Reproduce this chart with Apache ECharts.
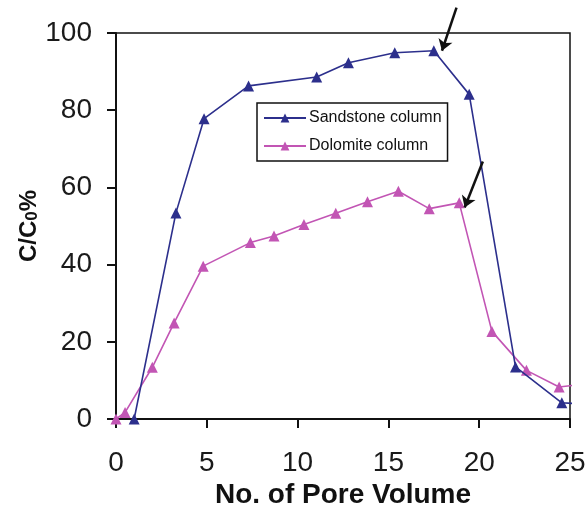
<!DOCTYPE html>
<html>
<head>
<meta charset="utf-8">
<script src="https://cdn.jsdelivr.net/npm/echarts@6/dist/echarts.min.js"></script>
<style>
  html, body { margin: 0; padding: 0; background: #fff; }
  #chart { width: 587px; height: 505px; }
</style>
</head>
<body>
<div id="chart"></div>
<script>
// Breakthrough curves: relative concentration vs. injected pore volumes
const sandstonePV = [1.0, 3.3, 4.85, 7.3, 11.05, 12.8, 15.35, 17.5, 19.45, 22.0, 24.55, 25.3];
const sandstoneC  = [0.0, 53.4, 77.8, 86.3, 88.6, 92.3, 94.9, 95.4, 84.1, 13.5, 4.2, 4.0];

const dolomitePV = [0.0, 0.5, 2.0, 3.2, 4.8, 7.4, 8.7, 10.35, 12.1, 13.85, 15.55, 17.25, 18.9, 20.7, 22.6, 24.4, 25.3];
const dolomiteC  = [0.0, 1.7, 13.4, 24.9, 39.6, 45.7, 47.4, 50.4, 53.3, 56.3, 59.0, 54.5, 56.0, 22.7, 12.6, 8.3, 8.8];

const xTicks = [0, 5, 10, 15, 20, 25];
const yTicks = [0, 20, 40, 60, 80, 100];

// Arrows marking the onset of the decline (tail -> head, in data units)
const sandstoneArrow = [[18.75, 106.6], [17.95, 95.4]];
const dolomiteArrow  = [[20.2, 66.7], [19.2, 54.8]];

const BLUE = '#2c2f8c';
const PINK = '#c255b4';
const FONT = 'Liberation Sans, Arial, sans-serif';

// last point of each series only carries the line to the frame edge
function toPoints(xs, ys) {
  return xs.map((x, i) => i === xs.length - 1
    ? { value: [x, ys[i]], symbol: 'none' }
    : [x, ys[i]]);
}

const chart = echarts.init(document.getElementById('chart'), null, { renderer: 'canvas' });

chart.setOption({
  animation: false,
  backgroundColor: '#fff',
  grid: {
    left: 116, right: 17, top: 33, bottom: 86,
    containLabel: false, outerBoundsMode: 'none',
    show: true, borderColor: '#111', borderWidth: 1.5, backgroundColor: 'transparent'
  },
  legend: {
    orient: 'vertical',
    left: 257, top: 103,
    padding: [7, 6, 7, 6],
    itemGap: 12,
    itemWidth: 42, itemHeight: 11,
    borderColor: '#111', borderWidth: 1.5, borderRadius: 0,
    backgroundColor: '#fff',
    textStyle: { fontFamily: FONT, fontSize: 16, color: '#111', padding: [0, 0, 0, -2] },
    data: ['Sandstone column', 'Dolomite column']
  },
  xAxis: {
    type: 'value', min: xTicks[0], max: xTicks[xTicks.length - 1], interval: 5,
    name: 'No. of Pore Volume', nameLocation: 'middle', nameGap: 62, nameMoveOverlap: false,
    nameTextStyle: { fontFamily: FONT, fontSize: 28, fontWeight: 'bold', color: '#111' },
    axisLine: { show: true, onZero: false, lineStyle: { color: '#111', width: 2 } },
    axisTick: { show: true, length: 9, lineStyle: { color: '#111', width: 2 } },
    axisLabel: { fontFamily: FONT, fontSize: 28, color: '#1a1a1a', margin: 30 },
    splitLine: { show: false }
  },
  yAxis: {
    type: 'value', min: yTicks[0], max: yTicks[yTicks.length - 1], interval: 20,
    name: 'C/C{sub|0}%', nameLocation: 'middle', nameGap: 75, nameRotate: 90, nameMoveOverlap: false,
    nameTextStyle: {
      fontFamily: FONT, fontSize: 24, fontWeight: 'bold', color: '#111',
      rich: { sub: { fontFamily: FONT, fontSize: 17, fontWeight: 'bold', color: '#111', verticalAlign: 'bottom', padding: [4, 0, 0, 0] } }
    },
    axisLine: { show: true, onZero: false, lineStyle: { color: '#111', width: 2 } },
    axisTick: { show: true, length: 9, lineStyle: { color: '#111', width: 2 } },
    axisLabel: { fontFamily: FONT, fontSize: 28, color: '#1a1a1a', margin: 24 },
    splitLine: { show: false }
  },
  series: [
    {
      name: 'Sandstone column', type: 'line', data: toPoints(sandstonePV, sandstoneC),
      clip: false, symbol: 'triangle', symbolSize: 11,
      lineStyle: { color: BLUE, width: 1.6 }, itemStyle: { color: BLUE },
      z: 3
    },
    {
      name: 'Dolomite column', type: 'line', data: toPoints(dolomitePV, dolomiteC),
      clip: false, symbol: 'triangle', symbolSize: 11,
      lineStyle: { color: PINK, width: 1.6 }, itemStyle: { color: PINK },
      z: 2
    },
    {
      name: 'arrows', type: 'lines', coordinateSystem: 'cartesian2d',
      clip: false, silent: true, z: 5,
      symbol: ['none', 'arrow'], symbolSize: [8, 11],
      lineStyle: { color: '#111', width: 2.5, opacity: 1, curveness: 0 },
      data: [{ coords: sandstoneArrow }, { coords: dolomiteArrow }]
    }
  ]
});
</script>
</body>
</html>
